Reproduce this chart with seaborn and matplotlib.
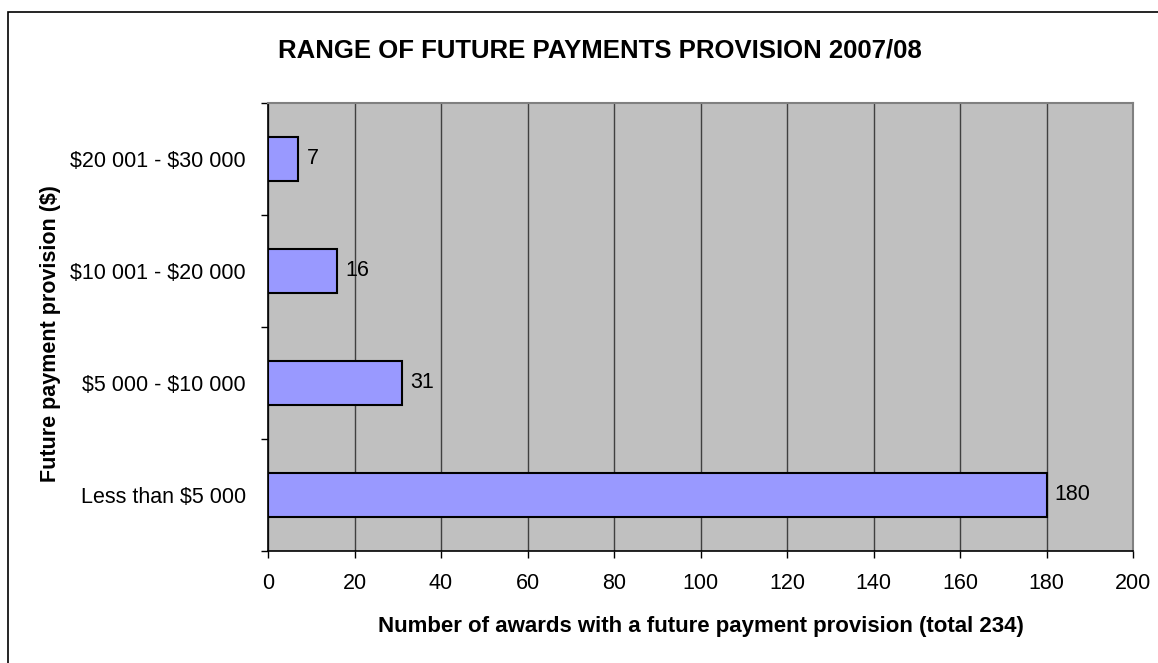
import matplotlib
matplotlib.use("Agg")
import matplotlib.pyplot as plt
import seaborn as sns
import pandas as pd
from matplotlib.patches import Rectangle
from matplotlib.ticker import FixedLocator

categories = ["$20 001 - $30 000", "$10 001 - $20 000", "$5 000 - $10 000", "Less than $5 000"]
awards = [7, 16, 31, 180]
x_ticks = [0, 20, 40, 60, 80, 100, 120, 140, 160, 180, 200]

df = pd.DataFrame({"provision": categories, "awards": awards})

sns.set_style("white")
plt.rcParams["font.family"] = ["Liberation Sans", "DejaVu Sans"]
plt.rcParams["text.parse_math"] = False
for key in ["text.color", "axes.labelcolor", "xtick.color", "ytick.color"]:
    plt.rcParams[key] = "black"

fig = plt.figure(figsize=(11.58, 6.63), dpi=100)
ax = fig.add_axes([268 / 1158, 1 - 551 / 663, (1133 - 268) / 1158, (551 - 103) / 663])
ax.set_facecolor("#C0C0C0")

sns.barplot(data=df, y="provision", x="awards", order=categories, color="#9999FF",
            saturation=1, edgecolor="black", linewidth=1.5, width=0.4, ax=ax, zorder=3)

for c in ax.containers:
    ax.bar_label(c, padding=6, fontsize=15.5, color="black")

ax.set_xlim(0, 200)
ax.set_ylim(3.5, -0.5)
ax.set_xticks(x_ticks)
ax.xaxis.grid(True, color="#404040", linewidth=1.0, zorder=1)
ax.set_axisbelow(True)

# y ticks sit between categories like Excel
ax.tick_params(axis="y", which="major", length=0, pad=16, labelsize=15.5)
ax.yaxis.set_minor_locator(FixedLocator([-0.5, 0.5, 1.5, 2.5, 3.5]))
ax.tick_params(axis="y", which="minor", length=5, width=1, color="black", direction="out", left=True)
ax.tick_params(axis="x", length=5, width=1, color="black", direction="out", bottom=True,
               labelsize=15.5, pad=11)

for side in ["left", "bottom"]:
    ax.spines[side].set_color("black")
    ax.spines[side].set_linewidth(1.2)
for side in ["top", "right"]:
    ax.spines[side].set_color("#808080")
    ax.spines[side].set_linewidth(1.5)

ax.set_xlabel("Number of awards with a future payment provision (total 234)",
              fontsize=16, fontweight="bold", labelpad=16)
ax.set_ylabel("Future payment provision ($)", fontsize=15.5, fontweight="bold")
ax.yaxis.set_label_coords(61 / 1158, 1 - 334 / 663, transform=fig.transFigure)

fig.text(600 / 1158, 1 - 50 / 663, "RANGE OF FUTURE PAYMENTS PROVISION 2007/08",
         fontsize=18.5, fontweight="bold", ha="center", va="center")

fig.patches.append(Rectangle((8 / 1158, -0.1), 1.2, 1 - 12 / 663 + 0.1, transform=fig.transFigure,
                             fill=False, edgecolor="black", linewidth=1.2))

fig.savefig("out.png", dpi=100)
